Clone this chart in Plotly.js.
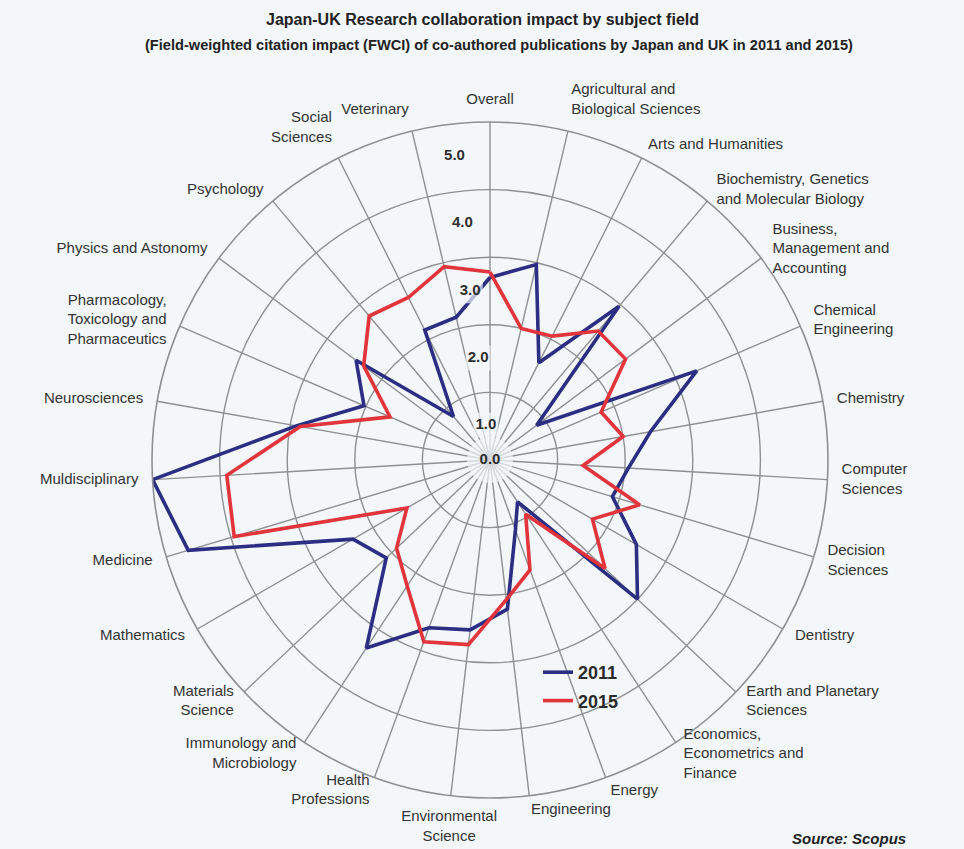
<!DOCTYPE html>
<html>
<head>
<meta charset="utf-8">
<script src="https://cdn.plot.ly/plotly-3.0.1.min.js"></script>
<style>
  html, body { margin: 0; padding: 0; background: #f3f7fa; }
  #chart { width: 964px; height: 849px; }
</style>
</head>
<body>
<div id="chart"></div>
<script>
// ---------- DATA ----------
const categories = [
  "Overall", "Agricultural and Biological Sciences", "Arts and Humanities",
  "Biochemistry, Genetics and Molecular Biology", "Business, Management and Accounting",
  "Chemical Engineering", "Chemistry", "Computer Sciences", "Decision Sciences",
  "Dentistry", "Earth and Planetary Sciences", "Economics, Econometrics and Finance",
  "Energy", "Engineering", "Environmental Science", "Health Professions",
  "Immunology and Microbiology", "Materials Science", "Mathematics", "Medicine",
  "Muldisciplinary", "Neurosciences", "Pharmacology, Toxicology and Pharmaceutics",
  "Physics and Astonomy", "Psychology", "Social Sciences", "Veterinary"
];

const categoryTickLabels = [
  "Overall", "Agricultural and<br>Biological Sciences", "Arts and Humanities",
  "Biochemistry, Genetics<br>and Molecular Biology", "Business,<br>Management and<br>Accounting",
  "Chemical<br>Engineering", "Chemistry", "Computer<br>Sciences", "Decision<br>Sciences",
  "Dentistry", "Earth and Planetary<br>Sciences", "Economics,<br>Econometrics and<br>Finance",
  "Energy", "Engineering", "Environmental<br>Science", "Health<br>Professions",
  "Immunology and<br>Microbiology", "Materials<br>Science", "Mathematics", "Medicine",
  "Muldisciplinary", "Neurosciences", "Pharmacology,<br>Toxicology and<br>Pharmaceutics",
  "Physics and Astonomy", "Psychology", "Social<br>Sciences", "Veterinary"
];

const fwci2011 = [
  2.70, 2.97, 1.61, 2.97, 0.86, 3.33, 2.41, 2.05, 1.89,
  2.50, 3.00, 0.74, 1.10, 2.22, 2.53, 2.64, 3.33, 2.11,
  2.34, 4.66, 5.00, 2.91, 2.03, 2.47, 0.84, 2.15, 2.17
];

const fwci2015 = [
  2.78, 2.00, 2.05, 2.49, 2.50, 1.79, 2.00, 1.38, 2.31,
  1.75, 2.34, 0.96, 1.73, 2.08, 2.75, 2.86, 2.23, 1.90,
  1.42, 3.95, 3.90, 2.85, 1.61, 2.33, 2.78, 2.69, 2.94
];

const seriesNames = ["2011", "2015"];
const radialTickValues = [0, 1, 2, 3, 4, 5];
const radialTickText = ["0.0", "1.0", "2.0", "3.0", "4.0", "5.0"];

const titleLine1 = "Japan-UK Research collaboration impact by subject field";
const titleLine2 = "(Field-weighted citation impact (FWCI) of co-authored publications by Japan and UK in 2011 and 2015)";
const sourceText = "Source: Scopus";

// ---------- STYLE / GEOMETRY ----------
const BG = "#f3f7fa";
const GRID = "#8e9092";
const BLUE = "#2b2e82";
const RED = "#e2353b";
const FONT = "'Liberation Sans', Arial, Helvetica, sans-serif";
const W = 964, H = 849;
const CX = 490, CY = 460;          // centre of the rings, px from top-left
const RING_PX = 338;               // outer ring radius
const LABEL_PX = 389;              // radius of the (invisible) label frame

const n = categories.length;
const step = 360 / n;
const angles = categories.map((c, i) => i * step);
const closeLoop = arr => arr.concat([arr[0]]);
const thetaClosed = closeLoop(angles);
const rMax = radialTickValues[radialTickValues.length - 1];
const labelFrameMax = rMax * LABEL_PX / RING_PX;
const labelR = rMax * 1.042;

function squareDomain(radiusPx) {
  return {
    x: [(CX - radiusPx) / W, (CX + radiusPx) / W],
    y: [(H - CY - radiusPx) / H, (H - CY + radiusPx) / H]
  };
}

// where each category label sits relative to its anchor point outside the ring
function labelPosition(a) {
  if (a === 0) return "top center";
  if (a > 180 && a < 190) return "bottom center";
  if (a < 25) return "top right";
  if (a > 325) return "top left";
  return a < 180 ? "middle right" : "middle left";
}

const traces = [
  {
    type: "scatterpolar", mode: "lines", name: seriesNames[0], legendgroup: "a",
    r: closeLoop(fwci2011), theta: thetaClosed,
    line: { color: BLUE, width: 3.6 },
    hoverinfo: "skip"
  },
  {
    type: "scatterpolar", mode: "lines", name: seriesNames[1], legendgroup: "b",
    r: closeLoop(fwci2015), theta: thetaClosed,
    line: { color: RED, width: 3.6 },
    hoverinfo: "skip"
  },
  {
    // radial scale labels, set between the rings on a half-step ray
    type: "scatterpolar", mode: "markers+text", showlegend: false, hoverinfo: "skip",
    r: radialTickValues.map(v => (v === 0 ? 0 : v - 0.48)),
    theta: radialTickValues.map(() => 360 - step / 2),
    text: radialTickText,
    textposition: "middle center",
    textfont: { family: FONT, size: 15, color: "#2e2e2e", weight: "bold" },
    marker: {
      color: BG,
      symbol: radialTickValues.map(v => (v === 0 ? "circle" : "square")),
      size: radialTickValues.map(v => (v === 0 ? 46 : 25)),
      line: { width: 0 }
    }
  },
  {
    // category labels around the ring (drawn in a larger, invisible frame)
    type: "scatterpolar", subplot: "polar2", mode: "text",
    showlegend: false, hoverinfo: "skip",
    r: angles.map(() => labelR),
    theta: angles,
    text: categoryTickLabels,
    textposition: angles.map(labelPosition),
    textfont: { family: FONT, size: 15, color: "#333" }
  }
];

const hiddenAngular = {
  type: "linear", thetaunit: "degrees", rotation: 90, direction: "clockwise",
  showticklabels: false, ticks: "", showline: false, showgrid: false
};

const layout = {
  width: W, height: H,
  paper_bgcolor: BG,
  margin: { l: 0, r: 0, t: 0, b: 0 },
  font: { family: FONT, color: "#333" },
  polar: {
    domain: squareDomain(RING_PX),
    bgcolor: BG,
    radialaxis: {
      range: [0, rMax],
      tickvals: radialTickValues.slice(1),
      showticklabels: false,
      ticks: "",
      showline: false,
      gridcolor: GRID,
      gridwidth: 1.4
    },
    angularaxis: {
      type: "linear",
      thetaunit: "degrees",
      rotation: 90,
      direction: "clockwise",
      tickmode: "array",
      tickvals: angles,
      showticklabels: false,
      ticks: "",
      showline: true,
      linecolor: GRID,
      linewidth: 1.6,
      gridcolor: GRID,
      gridwidth: 1.4
    }
  },
  polar2: {
    domain: squareDomain(LABEL_PX),
    bgcolor: "rgba(0,0,0,0)",
    radialaxis: {
      range: [0, labelFrameMax],
      visible: false, showgrid: false, showline: false, showticklabels: false, ticks: ""
    },
    angularaxis: hiddenAngular
  },
  showlegend: true,
  legend: {
    x: 538 / W, xanchor: "left",
    y: 1 - 654 / H, yanchor: "top",
    bgcolor: "rgba(0,0,0,0)",
    traceorder: "grouped",
    tracegroupgap: 2,
    font: { family: FONT, size: 18, color: "#2a2a2a", weight: "bold" }
  },
  annotations: [
    {
      xref: "paper", yref: "paper", x: 482 / W, y: 1 - 20 / H,
      xanchor: "center", yanchor: "middle", showarrow: false,
      text: titleLine1,
      font: { family: FONT, size: 16, color: "#222", weight: "bold" }
    },
    {
      xref: "paper", yref: "paper", x: 499 / W, y: 1 - 45 / H,
      xanchor: "center", yanchor: "middle", showarrow: false,
      text: titleLine2,
      font: { family: FONT, size: 14.6, color: "#222", weight: "bold" }
    },
    {
      xref: "paper", yref: "paper",
      x: 908 / W, y: 1 - 838 / H,
      xanchor: "right", yanchor: "middle",
      text: "<b><i>" + sourceText + "</i></b>",
      showarrow: false,
      font: { family: FONT, size: 15, color: "#222" }
    }
  ]
};

Plotly.newPlot("chart", traces, layout, { displayModeBar: false, staticPlot: true });
</script>
</body>
</html>
